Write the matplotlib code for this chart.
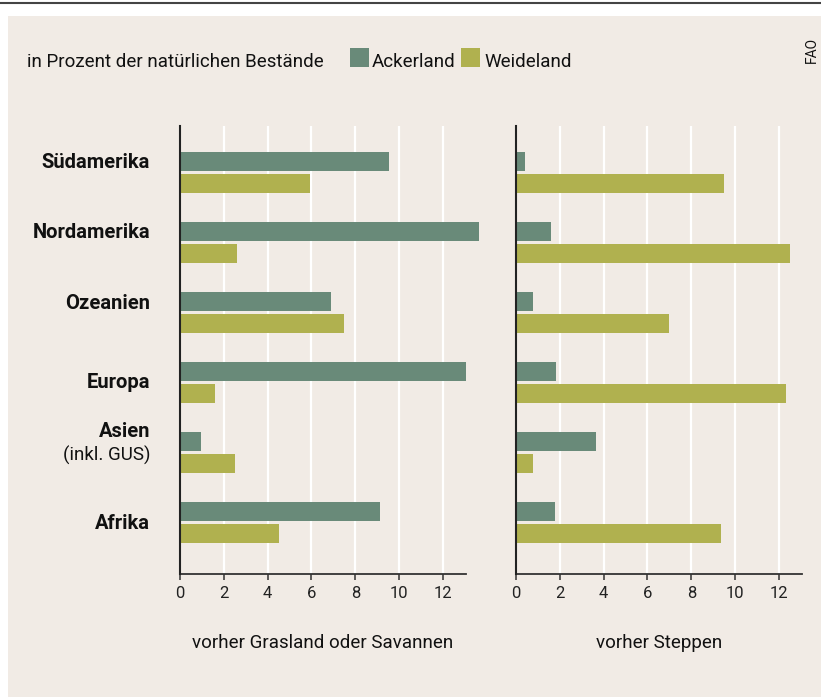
import matplotlib
matplotlib.use("Agg")
import matplotlib.pyplot as plt
import matplotlib.transforms as mtransforms
from matplotlib.patches import Rectangle
import numpy as np

plt.rcParams['font.family'] = ['Liberation Sans Narrow', 'Roboto', 'DejaVu Sans']

# data (in Prozent der natürlichen Bestände)
regions = ["Südamerika", "Nordamerika", "Ozeanien", "Europa", "Asien", "Afrika"]
gras_acker = [9.55, 13.65, 6.9, 13.06, 0.96, 9.13]
gras_weide = [5.94, 2.6, 7.49, 1.6, 2.51, 4.52]
steppe_acker = [0.41, 1.6, 0.77, 1.82, 3.65, 1.78]
steppe_weide = [9.48, 12.49, 6.97, 12.31, 0.77, 9.34]
xticks = [0, 2, 4, 6, 8, 10, 12]

c_acker = "#698a79"
c_weide = "#b0b14f"
bg = "#f1ebe5"
W, H = 821, 697

fig = plt.figure(figsize=(W / 100, H / 100), dpi=100)
fig.patch.set_facecolor("white")

def fx(px):
    return px / W

def fy(py):
    return 1 - py / H

# beige panel + top rule
fig.add_artist(Rectangle((fx(8), 0), 1 - fx(8), fy(16), transform=fig.transFigure,
                         facecolor=bg, edgecolor="none", zorder=-5))
fig.add_artist(plt.Line2D([0, 1], [fy(3), fy(3)], transform=fig.transFigure,
                          color="#444444", lw=1.5))

ax1 = fig.add_axes([fx(180), fy(574), fx(286), fy(126) - fy(574)], zorder=2)
ax2 = fig.add_axes([fx(516), fy(574), fx(286), fy(126) - fy(574)], zorder=2)

y = np.arange(len(regions))
h = 0.271
off = 0.157

for ax, acker, weide in [(ax1, gras_acker, gras_weide), (ax2, steppe_acker, steppe_weide)]:
    ax.set_facecolor("none")
    ax.barh(y - off, acker, height=h, color=c_acker, clip_on=False, zorder=3)
    ax.barh(y + off, weide, height=h, color=c_weide, clip_on=False, zorder=3)
    ax.set_xlim(0, 13.05)
    ax.set_ylim(5.736, -0.664)
    ax.set_xticks(xticks)
    ax.set_yticks([])
    for v in xticks[1:]:
        ax.axvline(v, color="white", lw=1.6, zorder=1)
    for s in ["top", "right"]:
        ax.spines[s].set_visible(False)
    ax.spines["left"].set_color("#222222")
    ax.spines["left"].set_linewidth(1.5)
    ax.spines["left"].set_zorder(4)
    ax.spines["bottom"].set_color("#333333")
    ax.spines["bottom"].set_linewidth(1.3)
    ax.tick_params(axis="x", length=4.5, width=1.1, color="#333333", labelcolor="#222222",
                   labelsize=12, pad=4)

# region labels
trans = mtransforms.blended_transform_factory(ax1.transAxes, ax1.transData)
label_shift = [-0.064, -0.064, -0.05, 0.079, -0.221, 0.093]
lx = (150 - 180) / 286
for i, (name, s) in enumerate(zip(regions, label_shift)):
    ax1.text(lx, i + s, name, transform=trans, ha="right", va="baseline",
             fontsize=14.5, fontweight="bold", color="#111111")
ax1.text(lx, 4 + 0.121, "(inkl. GUS)", transform=trans, ha="right", va="baseline",
         fontsize=13.5, color="#111111")

# header + legend
fig.text(fx(27), fy(67), "in Prozent der natürlichen Bestände", ha="left", va="baseline",
         fontsize=13.5, color="#111111")
fig.add_artist(Rectangle((fx(350), fy(67)), fx(19), fy(48) - fy(67), transform=fig.transFigure,
                         facecolor=c_acker, edgecolor="none"))
fig.text(fx(372), fy(67), "Ackerland", ha="left", va="baseline", fontsize=13.5, color="#111111")
fig.add_artist(Rectangle((fx(461), fy(67)), fx(19), fy(48) - fy(67), transform=fig.transFigure,
                         facecolor=c_weide, edgecolor="none"))
fig.text(fx(484), fy(67), "Weideland", ha="left", va="baseline", fontsize=13.5, color="#111111")
fig.text(fx(812), fy(50), "FAO", rotation=90, ha="center", va="center", fontsize=10,
         color="#111111")

# panel captions
fig.text(fx(323), fy(648), "vorher Grasland oder Savannen", ha="center", va="baseline",
         fontsize=13.5, color="#111111")
fig.text(fx(659), fy(648), "vorher Steppen", ha="center", va="baseline",
         fontsize=13.5, color="#111111")

fig.savefig("out.png", dpi=100, facecolor=fig.get_facecolor())
